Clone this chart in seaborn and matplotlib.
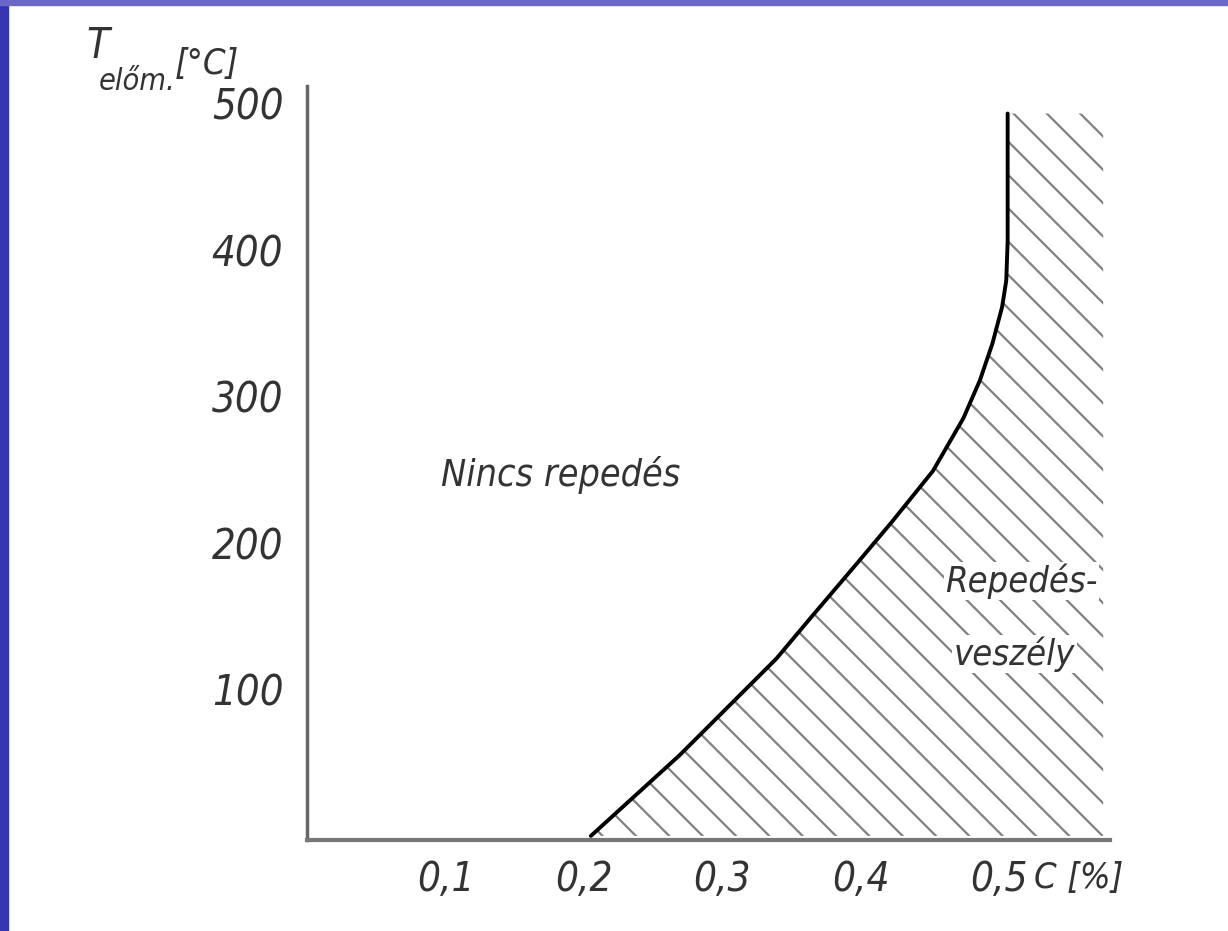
import numpy as np
import matplotlib
matplotlib.use("Agg")
import matplotlib.pyplot as plt
from matplotlib.patches import Rectangle
import seaborn as sns

# határgörbe: szén-tartalom [%] és előmelegítési hőmérséklet [°C]
carbon = [0.205, 0.269, 0.339, 0.363, 0.399, 0.423, 0.452, 0.474, 0.486,
          0.495, 0.502, 0.505, 0.506, 0.506]
temp = [0, 55, 121, 148, 188, 215, 249, 285, 311,
        336, 361, 379, 406, 493]

x_ticks = [0.1, 0.2, 0.3, 0.4, 0.5]
x_labels = ['0,1', '0,2', '0,3', '0,4', '0,5']
y_ticks = [100, 200, 300, 400, 500]
y_labels = ['100', '200', '300', '400', '500']

sns.set_style('white')
plt.rcParams['font.family'] = ['DejaVu Sans Condensed', 'Liberation Sans Narrow', 'DejaVu Sans']
plt.rcParams['font.stretch'] = 'condensed'
plt.rcParams['font.style'] = 'italic'
plt.rcParams['hatch.linewidth'] = 1.6

txt = '#333333'
fig = plt.figure(figsize=(12.28, 9.31), dpi=100)
fig.patch.set_facecolor('white')

# kék keret bal oldalt és felül
fig.add_artist(Rectangle((0, 0), 8 / 1228, 1, transform=fig.transFigure,
                         color='#3535b5', zorder=0))
fig.add_artist(Rectangle((0, 1 - 5 / 931), 1, 5 / 931, transform=fig.transFigure,
                         color='#6a68c8', zorder=0))

ax = fig.add_axes([0.25, 0.0974, 0.654, 0.8153])

# veszélyes tartomány vonalkázása
ax.fill_betweenx(temp, carbon, 0.575, facecolor='none', edgecolor='#808080',
                 hatch='\\', linewidth=0)
sns.lineplot(x=carbon, y=temp, estimator=None, sort=False, color='black',
             linewidth=2.8, ax=ax)

ax.set_xlim(0, 0.58)
ax.set_ylim(-3, 515)
for s in ['top', 'right']:
    ax.spines[s].set_visible(False)
ax.spines['left'].set_color('#666666')
ax.spines['left'].set_linewidth(2.5)
ax.spines['left'].set_bounds(-3, 512)
ax.spines['bottom'].set_color('#777777')
ax.spines['bottom'].set_linewidth(3)

ax.set_xticks(x_ticks)
ax.set_xticklabels(x_labels)
ax.set_yticks(y_ticks)
ax.set_yticklabels(y_labels)
ax.tick_params(axis='y', direction='inout', length=16, width=2.5, color='#555555',
               labelsize=30, labelcolor=txt, pad=9)
ax.tick_params(axis='x', direction='inout', length=22, width=2.2, color='#555555',
               labelsize=29, labelcolor=txt, pad=3)
ax.set_xlabel('')
ax.set_ylabel('')

ax.text(0.525, -29, 'C [%]', fontsize=26, color=txt, ha='left', va='center')

ax.text(0.183, 246, 'Nincs repedés', fontsize=27, color=txt, ha='center', va='center')
ax.text(0.516, 174, 'Repedés-', fontsize=26, color=txt, ha='center', va='center',
        bbox=dict(facecolor='white', edgecolor='none', pad=1))
ax.text(0.511, 124, 'veszély', fontsize=26, color=txt, ha='center', va='center',
        bbox=dict(facecolor='white', edgecolor='none', pad=1))

# tengelyfelirat bal felül
fig.text(98 / 1228, 1 - 46 / 931, 'T', fontsize=30, color=txt, ha='center', va='center')
fig.text(137 / 1228, 1 - 82 / 931, 'előm.', fontsize=22, color=txt, ha='center', va='center')
fig.text(207 / 1228, 1 - 64 / 931, '[°C]', fontsize=26, color=txt, ha='center', va='center')

fig.savefig('out.png', dpi=100, facecolor='white')
